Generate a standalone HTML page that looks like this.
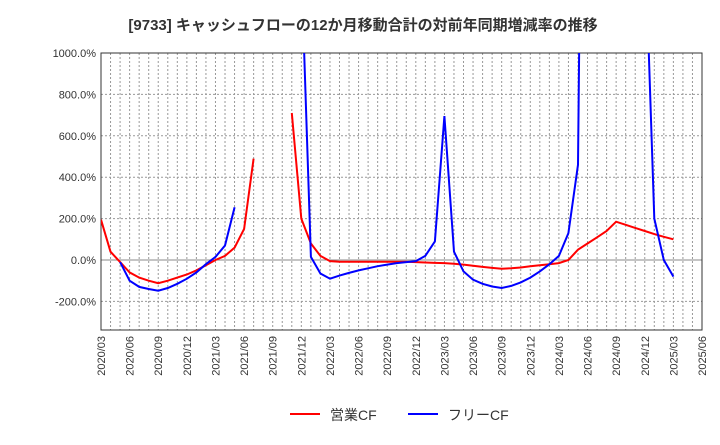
<!DOCTYPE html>
<html><head><meta charset="utf-8"><style>
body{margin:0;background:#fff;font-family:"Liberation Sans","Noto Sans CJK JP",sans-serif}
svg text{font-family:"Liberation Sans","Noto Sans CJK JP",sans-serif}
</style></head><body>
<svg id="c" width="720" height="440">
<text x="363" y="30" text-anchor="middle" font-size="15" font-weight="bold" fill="#333">[9733]  キャッシュフローの12か月移動合計の対前年同期増減率の推移</text>
<g id="grid"></g><g id="axes"></g><g id="series"></g>
<g>
<line x1="290" y1="414" x2="320" y2="414" stroke="#f00" stroke-width="2"/>
<text x="330" y="420" font-size="14" fill="#333">営業CF</text>
<line x1="408" y1="414" x2="438" y2="414" stroke="#00f" stroke-width="2"/>
<text x="448" y="420" font-size="14" fill="#333">フリーCF</text>
</g>
</svg>
<script>
const months=[];for(let i=0;i<=63;i++){const t=2020*12+2+i;months.push(Math.floor(t/12)+'/'+String(t%12+1).padStart(2,'0'));}
const yTicks=[1000,800,600,400,200,0,-200];
const opCF=[195,40,-10,-60,-85,-100,-112,-100,-85,-70,-50,-25,0,20,60,150,490,null,null,null,710,200,80,20,-5,-8,-8,-8,-8,-8,-8,-8,-8,-10,-12,-14,-15,-18,-22,-28,-33,-38,-42,-40,-36,-30,-25,-20,-15,0,50,80,110,140,185,170,155,140,125,112,100];
const freeCF=[null,null,-10,-100,-130,-140,-148,-135,-115,-90,-60,-20,15,70,255,null,null,null,null,null,null,1422,15,-65,-90,-75,-62,-50,-40,-30,-22,-15,-10,-5,20,90,695,40,-55,-95,-115,-128,-135,-125,-108,-85,-55,-20,20,130,460,5000,null,null,null,null,null,1580,200,0,-80];
const L=101,R=702,T=53,B=330,yMin=-338,yMax=1000;
const X=i=>L+i*(R-L)/63, Y=v=>B-(v-yMin)*(B-T)/(yMax-yMin);
const NS='http://www.w3.org/2000/svg';
function mk(tag,attrs,parent){const e=document.createElementNS(NS,tag);for(const k in attrs)e.setAttribute(k,attrs[k]);document.getElementById(parent).appendChild(e);return e;}
for(let i=1;i<63;i++){const e=mk('line',{x1:X(i),x2:X(i),y1:T,y2:B,stroke:'#999','stroke-dasharray':'2,2','stroke-width':1},'grid');

}
yTicks.forEach(v=>{const e=mk('line',{x1:L,x2:R,y1:Y(v),y2:Y(v),stroke:v===0?'#888':'#999','stroke-dasharray':v===0?'':'2,2'},'grid');


const t=mk('text',{x:L-5,y:Y(v)+4,'text-anchor':'end','font-size':11,fill:'#333'},'axes');t.textContent=v.toFixed(1)+'%';

});
for(let i=0;i<=63;i+=3){const t=mk('text',{x:0,y:0,'font-size':11,fill:'#333','text-anchor':'end',transform:`translate(${X(i)+4},${B+6}) rotate(-90)`},'axes');t.textContent=months[i];

}
const fr=mk('rect',{x:L,y:T,width:R-L,height:B-T,fill:'none',stroke:'#333'},'axes');


mk('clipPath',{id:'cp'},'series').appendChild(document.createElementNS(NS,'rect'));
const cr=document.querySelector('#cp rect');cr.setAttribute('x',L);cr.setAttribute('y',T);cr.setAttribute('width',R-L);cr.setAttribute('height',B-T);
function draw(arr,color,name){let d='',pen=false;arr.forEach((v,i)=>{if(v===null){pen=false;return;}d+=(pen?'L':'M')+X(i).toFixed(1)+','+Y(v).toFixed(1);pen=true;});
const p=mk('path',{d:d,fill:'none',stroke:color,'stroke-width':2,'clip-path':'url(#cp)'},'series');

}
draw(opCF,'#f00','operating-cf-line');
draw(freeCF,'#00f','free-cf-line');
</script>
</body></html>
